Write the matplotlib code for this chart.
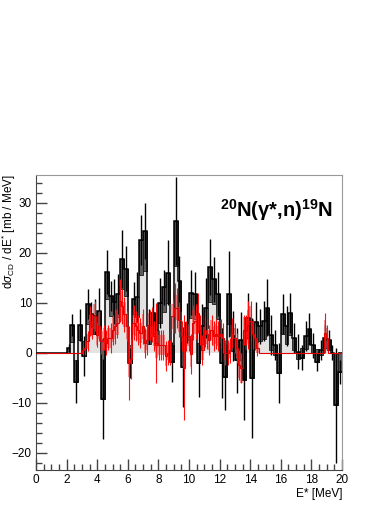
import numpy as np
import matplotlib
matplotlib.use('Agg')
import matplotlib.pyplot as plt

plt.rcParams['font.family'] = 'Liberation Sans'
plt.rcParams['mathtext.fontset'] = 'custom'
plt.rcParams['mathtext.rm'] = 'Liberation Sans'
plt.rcParams['mathtext.it'] = 'Liberation Sans:italic'
plt.rcParams['mathtext.bf'] = 'Liberation Sans:bold'

# black histogram: 0.25 MeV bins starting at 2.0 MeV
black_lo = 2.0
black_width = 0.25
black_vals = [1.0, 5.6, -5.8, 5.5, -0.7, 9.7, 7.7, 7.3, 8.4, -9.3,
              16.2, 11.3, 10.2, 11.7, 18.8, 16.8, -2.0, 10.7, 11.2, 22.5,
              24.3, 5.3, 8.0, 4.6, 10.0, 13.1, 16.0, -1.9, 26.4, 14.4,
              -2.8, 6.0, 12.0, 11.8, -2.0, 5.3, 9.0, 17.2, 14.7, 11.7,
              -2.1, -4.8, 11.7, 3.3, -1.5, 2.6, -5.5, 7.0, -5.0, 6.1,
              5.3, 6.3, 9.0, 3.6, 1.5, -4.1, 7.7, 5.3, 8.0, 3.0,
              0.2, -1.0, 3.3, 4.8, 1.5, -1.8, 0.5, 3.0, 2.6, 0.0,
              -10.5, -3.8]
black_err = [0.8, 2.2, 4.3, 3.2, 4.0, 3.0, 2.5, 3.5, 4.6, 8.0,
             4.4, 3.0, 4.5, 4.0, 5.8, 4.5, 3.0, 3.5, 5.0, 5.0,
             5.6, 3.5, 3.0, 3.5, 5.0, 3.5, 6.5, 4.0, 8.8, 5.0,
             8.0, 4.0, 4.5, 4.3, 6.8, 4.5, 6.0, 5.6, 4.5, 4.4,
             7.0, 6.7, 8.6, 5.0, 6.5, 5.5, 8.0, 5.0, 12.0, 4.0,
             3.5, 4.0, 5.7, 4.0, 3.0, 6.0, 4.0, 4.0, 4.0, 3.0,
             3.5, 2.5, 3.0, 3.2, 2.5, 1.8, 2.0, 2.5, 2.0, 1.5,
             11.5, 2.4]
# dark band, measured from the value towards zero
black_sys = [1.0, 3.5, 4.4, 3.0, 3.0, 4.0, 4.0, 3.5, 4.0, 12.0,
             5.5, 4.0, 4.0, 4.5, 6.0, 5.5, 3.5, 3.0, 4.0, 7.0,
             8.0, 3.5, 4.0, 3.0, 4.0, 5.0, 6.0, 3.5, 9.0, 6.0,
             5.0, 3.5, 5.0, 5.0, 4.0, 3.5, 4.0, 7.0, 5.0, 5.0,
             4.0, 5.0, 6.0, 3.0, 4.0, 4.0, 6.0, 4.0, 9.0, 4.0,
             3.0, 3.5, 5.0, 3.0, 2.0, 4.0, 4.0, 3.5, 4.5, 2.5,
             1.5, 2.0, 2.5, 3.0, 1.5, 2.5, 1.0, 2.0, 2.0, 1.0,
             10.5, 4.0]

# red histogram: 0.15 MeV bins starting at 3.0 MeV, plus a small bump near 19 MeV
red_lo = 3.0
red_width = 0.15
red_vals = [0.5, 1.0, 2.3, 6.3, 5.3, 7.3, 3.6, 5.3, 2.3, 3.0,
            2.0, 3.0, 3.0, 4.6, 5.3, 6.0, 10.4, 9.3, 7.7, 5.3,
            -2.1, -1.3, 6.0, 5.3, 4.5, 4.0, 5.3, 1.9, 2.5, 5.5,
            5.6, 3.3, 2.0, 1.6, 1.6, 1.6, -0.7, 0.0, 0.0, 7.3,
            9.0, 9.0, 6.6, 3.3, -3.0, 3.3, 3.3, -0.3, 6.0, 6.3,
            8.0, 4.6, 0.5, 4.6, 3.8, 2.6, 4.6, 3.3, 3.8, 3.3,
            3.8, 3.0, 0.0, 0.0, 0.5, 4.0, 3.0, 1.0, -2.5, -3.0,
            4.6, 4.6, 5.6, 6.3, 3.8, 3.0, 0.9]
red_err = [1.0, 1.5, 2.0, 3.0, 2.5, 3.0, 2.5, 3.0, 2.5, 2.5,
           2.5, 2.5, 3.0, 3.0, 3.5, 3.0, 4.3, 3.5, 3.5, 3.0,
           7.4, 4.0, 3.5, 3.0, 3.0, 3.0, 3.5, 3.0, 3.0, 3.0,
           3.5, 3.0, 8.0, 3.0, 3.0, 3.0, 3.0, 2.5, 2.5, 3.4,
           5.0, 4.0, 3.5, 3.0, 10.5, 3.0, 3.0, 4.0, 3.5, 3.5,
           4.0, 3.0, 3.0, 3.5, 3.0, 3.0, 3.0, 3.0, 3.0, 3.0,
           3.0, 3.0, 2.5, 2.5, 2.5, 3.0, 3.0, 3.0, 3.0, 3.0,
           3.0, 3.0, 4.8, 4.0, 3.0, 2.5, 1.5]
red_sys = [0.5, 1.0, 1.5, 2.5, 2.0, 2.5, 2.0, 2.5, 2.0, 2.0,
           2.0, 2.0, 2.0, 2.5, 2.5, 2.5, 3.0, 3.0, 2.5, 2.5,
           2.7, 2.5, 2.5, 2.0, 2.0, 2.0, 2.5, 2.0, 2.0, 2.5,
           2.5, 2.0, 3.0, 2.0, 2.0, 2.0, 2.0, 1.5, 1.5, 2.5,
           3.0, 2.5, 2.5, 2.0, 3.5, 2.0, 2.0, 2.5, 2.5, 2.5,
           3.0, 2.0, 2.0, 2.5, 2.0, 2.0, 2.0, 2.0, 2.0, 2.0,
           2.0, 2.0, 1.5, 1.5, 1.5, 2.0, 2.0, 2.0, 2.5, 3.0,
           2.5, 2.5, 3.0, 3.0, 2.5, 2.0, 1.0]
bump_lo = 18.8
bump_vals = [4.0, 3.0]
bump_err = [4.0, 2.5]
bump_sys = [2.5, 2.0]

x_max = 20.0

# bin edges / centres
b_vals = np.array(black_vals)
b_edges = black_lo + black_width * np.arange(len(black_vals) + 1)
b_cent = 0.5 * (b_edges[:-1] + b_edges[1:])

r_edges_main = red_lo + red_width * np.arange(len(red_vals) + 1)
r_edges_bump = bump_lo + red_width * np.arange(len(bump_vals) + 1)
r_vals = np.array(red_vals + bump_vals)
r_err = np.array(red_err + bump_err)
r_sys = np.array(red_sys + bump_sys)
r_cent = np.concatenate([0.5 * (r_edges_main[:-1] + r_edges_main[1:]),
                         0.5 * (r_edges_bump[:-1] + r_edges_bump[1:])])

fig = plt.figure(figsize=(3.9, 5.05), dpi=100)
ax = fig.add_axes([36 / 390, 35 / 505, 306 / 390, 295.5 / 505])

# light grey fill and dark grey bands of the black histogram
ax.stairs(b_vals, b_edges, baseline=0, fill=True, color='#e3e3e3', lw=0, zorder=1)
ax.bar(b_cent, -np.sign(b_vals) * np.array(black_sys), bottom=b_vals,
       width=black_width, color='#5c5c5c', edgecolor='#1a1a1a', lw=0.6, zorder=2)

# red bands
ax.bar(r_cent, 2 * r_sys, bottom=r_vals - r_sys, width=red_width,
       color='#ff3b3b', alpha=0.55, lw=0, zorder=3)

# black errors and outline
ax.errorbar(b_cent, b_vals, yerr=black_err, fmt='none', ecolor='black',
            elinewidth=1.0, capsize=0, zorder=4)
full_b_edges = np.concatenate([[0.0], b_edges])
full_b_vals = np.concatenate([[0.0], b_vals])
ax.stairs(full_b_vals, full_b_edges, baseline=None, color='black', lw=1.1, zorder=5)

# red errors and outline over the full range
ax.errorbar(r_cent, r_vals, yerr=r_err, fmt='none', ecolor='#ff1010',
            elinewidth=0.8, capsize=0, zorder=6)
full_r_edges = np.concatenate([[0.0], r_edges_main, r_edges_bump, [x_max]])
full_r_vals = np.concatenate([[0.0], red_vals, [0.0], bump_vals, [0.0]])
ax.stairs(full_r_vals, full_r_edges, baseline=None, color='#e00000', lw=0.8, zorder=7)

ax.set_xlim(0, x_max)
ax.set_ylim(-23.5, 35.7)
ax.set_xticks(np.arange(0, 21, 2))
ax.set_xticks(np.arange(0, 20.01, 0.5), minor=True)
ax.set_yticks([-20, -10, 0, 10, 20, 30])
ax.set_yticks(np.arange(-22, 36, 2), minor=True)
ax.tick_params(which='both', direction='in', top=False, right=False,
               color='#444444', labelsize=8.5, labelcolor='black', pad=3)
ax.tick_params(which='major', length=8, width=1)
ax.tick_params(which='minor', length=4, width=1)
for side in ['left', 'bottom']:
    ax.spines[side].set_color('#444444')
for side in ['top', 'right']:
    ax.spines[side].set_color('#999999')

ax.set_ylabel(r'd$\sigma_{\rm CD}$ / dE$^{*}$ [mb / MeV]', fontsize=8.5, loc='top')
ax.yaxis.set_label_coords(-0.058, 1.0)
ax.set_xlabel('E* [MeV]', fontsize=8.5, loc='right')
ax.xaxis.set_label_coords(1.0, -0.06)

ax.text(12.0, 28.5, r'$^{\mathbf{20}}$N(γ*,n)$^{\mathbf{19}}$N', fontsize=14.5,
        fontweight='bold', ha='left', va='center', zorder=8)

fig.savefig('out.png', dpi=100)
